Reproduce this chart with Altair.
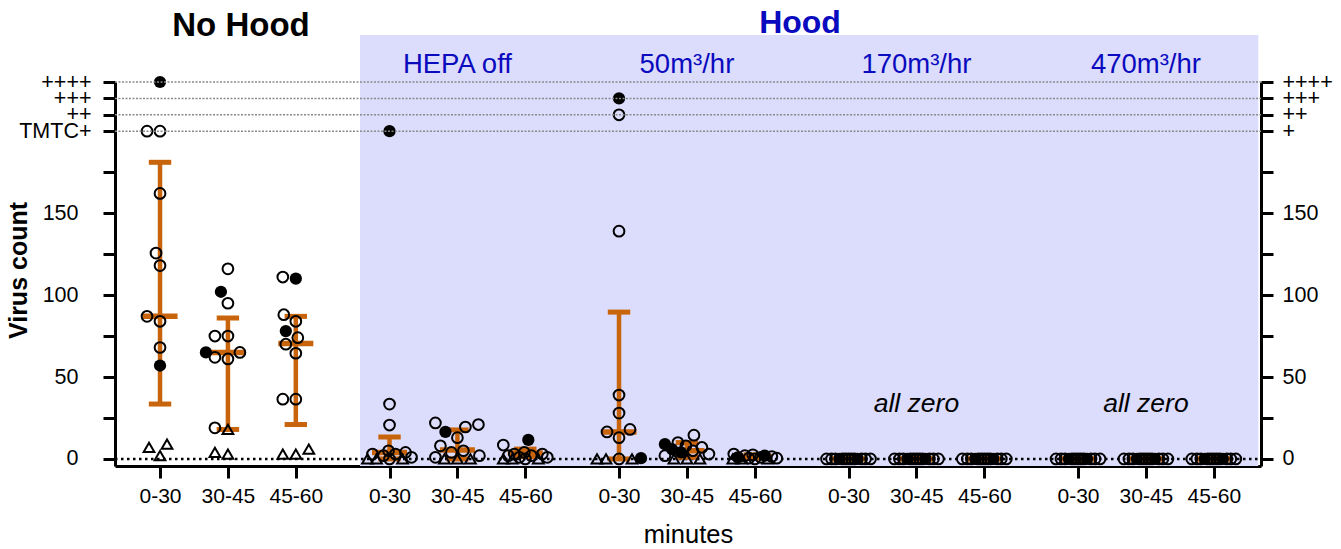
import altair as alt
import pandas as pd

# ---------------- data ----------------
GROUPS = ["No Hood", "HEPA off", "50m³/hr", "170m³/hr", "470m³/hr"]
TIMES = ["0-30", "30-45", "45-60"]

# open circles (200=TMTC+, 210=++, 220=+++, 230=++++)
open_pts = {
    "No Hood": [[200, 200, 162, 125.6, 118, 87, 84, 68],
                [116, 95, 75, 75, 65, 62, 61, 19],
                [111, 88, 84, 74, 70, 64.5, 36.5, 36.5]],
    "HEPA off": [[33.5, 20.7, 5, 4, 3, 3, 2, 1, 0],
                 [22, 21, 19.5, 13, 8, 5, 4, 2, 1],
                 [8.5, 4, 3, 3, 2, 2, 1, 1, 0]],
    "50m³/hr": [[210, 139, 39, 28, 18, 16.5, 13, 0],
                [14.5, 10, 8, 7, 5, 3, 2],
                [3, 2.5, 2, 1.5, 1, 0.5, 0.5, 0]],
    "170m³/hr": [[0, 0, 0, 0, 0, 0, 0, 0, 0, 0, 0],
                 [0, 0, 0, 0, 0, 0, 0, 0, 0, 0, 0],
                 [0, 0, 0, 0, 0, 0, 0, 0, 0, 0, 0]],
    "470m³/hr": [[0, 0, 0, 0, 0, 0, 0, 0, 0, 0, 0],
                 [0, 0, 0, 0, 0, 0, 0, 0, 0, 0, 0],
                 [0, 0, 0, 0, 0, 0, 0, 0, 0, 0, 0]],
}
filled_pts = {
    "No Hood": [[230, 57], [102, 65], [110, 78]],
    "HEPA off": [[200], [16.5], [11.6]],
    "50m³/hr": [[220, 0.5], [9, 6, 4], [2, 1]],
    "170m³/hr": [[0, 0], [0, 0], [0, 0]],
    "470m³/hr": [[0, 0], [0, 0], [0, 0]],
}
triangle_pts = {
    "No Hood": [[9, 2, 7], [18, 3, 4], [6, 3, 3]],
    "HEPA off": [[0, 0, 0], [0, 0, 0], [0, 0, 0]],
    "50m³/hr": [[0, 0, 0], [0, 0, 0], [0, 0, 0]],
    "170m³/hr": [[], [], []],
    "470m³/hr": [[], [], []],
}
mean_vals = {"No Hood": [87, 65, 70.5], "HEPA off": [4, 5.5, 3.7],
             "50m³/hr": [16.5, 5, 1.5], "170m³/hr": [0, 0, 0], "470m³/hr": [0, 0, 0]}
err_low = {"No Hood": [33.5, 18, 21], "HEPA off": [0, 0, 1.5],
           "50m³/hr": [0, 1, 0.5], "170m³/hr": [0, 0, 0], "470m³/hr": [0, 0, 0]}
err_high = {"No Hood": [181, 86, 87], "HEPA off": [13.4, 17.7, 6],
            "50m³/hr": [89.6, 10, 2.5], "170m³/hr": [0, 0, 0], "470m³/hr": [0, 0, 0]}

Y_LEVELS = [200, 210, 220, 230]
LEFT_LEVEL_LABELS = ["TMTC+", "++", "+++", "++++"]
RIGHT_LEVEL_LABELS = ["+", "++", "+++", "++++"]

# ---------------- layout constants ----------------
FONT = "Liberation Sans"
ORANGE = "#C8650C"
BLUE = "#0A0ABE"
LAVENDER = "#DCDCFC"
W, H = 1146, 384
GROUP_STEP = 3.38
X_DOM = [-0.663, 16.215]
Y_DOM = [-4.3, 230]
PX_X = W / (X_DOM[1] - X_DOM[0])
PX_Y = H / (Y_DOM[1] - Y_DOM[0])
HOOD_X0 = 2.945


def swarm(vals, half_w=22, d=13):
    """simple beeswarm: returns pixel x offsets"""
    placed = []
    offs = [0] * len(vals)
    cands = sorted(range(-half_w, half_w + 1), key=lambda c: (abs(c), c))
    for i in sorted(range(len(vals)), key=lambda k: vals[k]):
        y = vals[i] * PX_Y
        best = None
        for c in cands:
            if all((c - px) ** 2 + (y - py) ** 2 >= d * d for px, py in placed):
                best = c
                break
        if best is None:
            best = max(cands, key=lambda c: (min((c - px) ** 2 + (y - py) ** 2 for px, py in placed), -abs(c)))
        placed.append((best, y))
        offs[i] = best
    return offs


rows, srows = [], []
for gi, g in enumerate(GROUPS):
    for ti, t in enumerate(TIMES):
        pos = gi * GROUP_STEP + ti
        vals, kinds = [], []
        for kind, src in (("open", open_pts), ("filled", filled_pts), ("tri", triangle_pts)):
            for v in src[g][ti]:
                vals.append(v)
                kinds.append(kind)
        offs = swarm(vals)
        for v, k, o in zip(vals, kinds, offs):
            rows.append({"group": g, "time": t, "x": pos + o / PX_X, "val": v, "kind": k})
        srows.append({"pos": pos, "mean": mean_vals[g][ti], "lo": err_low[g][ti], "hi": err_high[g][ti]})

pts = pd.DataFrame(rows)
summ = pd.DataFrame(srows)
tick_pos = [gi * GROUP_STEP + ti for gi in range(len(GROUPS)) for ti in range(len(TIMES))]

xscale = alt.Scale(domain=X_DOM, nice=False, zero=False)
yscale = alt.Scale(domain=Y_DOM, nice=False, zero=False)

d_expr = f"round(datum.value - floor((datum.value + 0.5) / {GROUP_STEP}) * {GROUP_STEP})"
x_axis = alt.Axis(values=tick_pos,
                  labelExpr=f"{d_expr} == 0 ? '0-30' : ({d_expr} == 1 ? '30-45' : '45-60')",
                  title="minutes", titleFont=FONT, titleFontSize=25.5, titleFontWeight="normal",
                  titleColor="black", titleY=76, titleBaseline="alphabetic",
                  labelFont=FONT, labelFontSize=21, labelColor="black", labelPadding=7,
                  tickSize=12, tickWidth=3, tickColor="black", domainWidth=3, domainColor="black",
                  grid=False, labelFlush=False)


def X(field=None, datum=None):
    if datum is not None:
        return alt.X(datum=datum, type="quantitative", scale=xscale, axis=x_axis)
    return alt.X(field, type="quantitative", scale=xscale, axis=x_axis)


lvl_cond_left = " : ".join(f"datum.value == {v} ? '{l}'" for v, l in zip(Y_LEVELS, LEFT_LEVEL_LABELS))
lvl_cond_right = " : ".join(f"datum.value == {v} ? '{l}'" for v, l in zip(Y_LEVELS, RIGHT_LEVEL_LABELS))
y_ticks = [0, 25, 50, 75, 100, 125, 150, 175] + Y_LEVELS
common_y = dict(values=y_ticks, labelFont=FONT, labelFontSize=21.5, labelColor="black",
                tickSize=12, tickWidth=3, tickColor="black", domainWidth=3, domainColor="black",
                grid=False, labelFlush=False, labelOverlap=False)
left_axis = alt.Axis(orient="left",
                     labelExpr=f"{lvl_cond_left} : (datum.value % 50 == 0 ? datum.label : '')",
                     labelPadding={"condition": {"test": "datum.value >= 200", "value": 12}, "value": 25},
                     title="Virus count", titleFont=FONT, titleFontSize=25, titleFontWeight="bold",
                     titleColor="black", titleX=-97, titleY=188, titleBaseline="middle",
                     **common_y)
right_axis = alt.Axis(orient="right",
                      labelExpr=f"{lvl_cond_right} : (datum.value % 50 == 0 ? datum.label : '')",
                      labelPadding=9, title=None, **common_y)

# background shading for the hood region
bg = alt.Chart(pd.DataFrame({"a": [0]})).mark_rect(color=LAVENDER).encode(
    x=X(datum=HOOD_X0), x2=alt.X2(datum=X_DOM[1] - 0.04),
    y=alt.value(-47), y2=alt.value(H))

zero_line = alt.Chart(pd.DataFrame({"lvl": [0]})).mark_rule(
    color="black", strokeWidth=2.5, strokeDash=[2.5, 3.5]).encode(
    y=alt.Y("lvl:Q", scale=yscale, axis=None), x=alt.value(0), x2=alt.value(W))

level_lines = alt.Chart(pd.DataFrame({"lvl": Y_LEVELS})).mark_rule(
    color="#8a8a8a", strokeWidth=1.5, strokeDash=[2, 1.5]).encode(
    y=alt.Y("lvl:Q", scale=yscale, axis=right_axis), x=alt.value(0), x2=alt.value(W))

sbase = alt.Chart(summ).transform_calculate(
    mx1="datum.pos - 0.258", mx2="datum.pos + 0.258",
    cx1="datum.pos - 0.165", cx2="datum.pos + 0.165")
vbar = sbase.mark_rule(color=ORANGE, strokeWidth=4.5).encode(
    x=X("pos"), y=alt.Y("lo:Q", scale=yscale, axis=None), y2="hi:Q")
cap_hi = sbase.mark_rule(color=ORANGE, strokeWidth=5).encode(
    x=X("cx1"), x2="cx2:Q", y=alt.Y("hi:Q", scale=yscale, axis=None))
cap_lo = sbase.mark_rule(color=ORANGE, strokeWidth=5).encode(
    x=X("cx1"), x2="cx2:Q", y=alt.Y("lo:Q", scale=yscale, axis=None))
mbar = sbase.mark_rule(color=ORANGE, strokeWidth=5.5).encode(
    x=X("mx1"), x2="mx2:Q", y=alt.Y("mean:Q", scale=yscale, axis=None))

pbase = alt.Chart(pts)
p_open = pbase.transform_filter("datum.kind == 'open'").mark_point(
    shape="circle", filled=False, size=115, strokeWidth=2, color="black", opacity=1).encode(
    x=X("x"), y=alt.Y("val:Q", scale=yscale, axis=left_axis))
p_filled = pbase.transform_filter("datum.kind == 'filled'").mark_point(
    shape="circle", filled=True, size=150, color="black", opacity=1).encode(
    x=X("x"), y=alt.Y("val:Q", scale=yscale, axis=None))
p_tri = pbase.transform_filter("datum.kind == 'tri'").mark_point(
    shape="triangle-up", filled=False, size=115, strokeWidth=2, color="black", opacity=1).encode(
    x=X("x"), y=alt.Y("val:Q", scale=yscale, axis=None))

sub_df = pd.DataFrame({"label": GROUPS[1:], "pos": [gi * GROUP_STEP + 1 for gi in range(1, len(GROUPS))]})
subheads = alt.Chart(sub_df).mark_text(font=FONT, fontSize=27.5, color=BLUE, baseline="alphabetic").encode(
    x=X("pos"), y=alt.value(-9), text="label:N")

zero_df = pd.DataFrame({"pos": [gi * GROUP_STEP + 1 for gi in (3, 4)]})
zero_txt = alt.Chart(zero_df).mark_text(font=FONT, fontSize=26.5, fontStyle="italic", color="black",
                                        baseline="alphabetic").encode(
    x=X("pos"), y=alt.value(330), text=alt.value("all zero"))

nohood_txt = alt.Chart(pd.DataFrame({"t": ["No Hood"]})).mark_text(
    font=FONT, fontSize=33, fontWeight="bold", color="black", baseline="alphabetic").encode(
    x=alt.value(126), y=alt.value(-46), text="t:N")
hood_txt = alt.Chart(pd.DataFrame({"t": ["Hood"]})).mark_text(
    font=FONT, fontSize=32, fontWeight="bold", color=BLUE, baseline="alphabetic").encode(
    x=alt.value(685), y=alt.value(-49), text="t:N")

chart = alt.layer(
    bg, zero_line, vbar, cap_hi, cap_lo, mbar, p_open, p_filled, p_tri, level_lines,
    subheads, zero_txt, nohood_txt, hood_txt
).resolve_axis(y="independent").properties(
    width=W, height=H,
    autosize=alt.AutoSizeParams(type="none"),
    padding={"left": 115, "top": 82, "right": 80, "bottom": 83},
    background="white",
).configure_view(stroke=None)

chart.save("out.html", embed_options={"renderer": "svg", "actions": False})
